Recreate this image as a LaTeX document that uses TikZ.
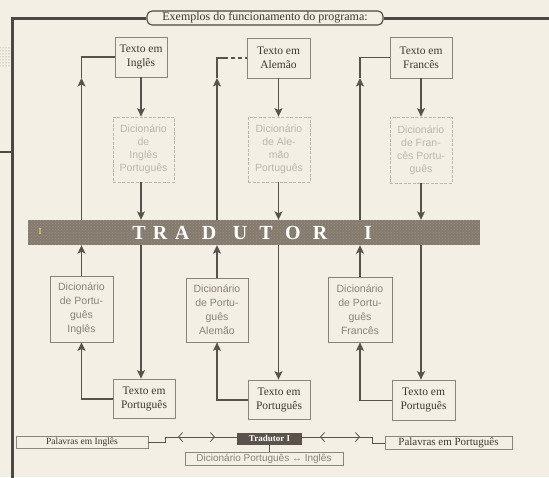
\documentclass[tikz,border=0pt]{standalone}
\usepackage{fontspec}
\setmainfont{Liberation Serif}
\newfontfamily\dsans{Liberation Sans}
\usetikzlibrary{arrows.meta,patterns}
\definecolor{bgc}{HTML}{F3EFE4}
\definecolor{lnc}{HTML}{57524C}
\definecolor{framec}{HTML}{4D4843}
\definecolor{boxc}{HTML}{8B857D}
\definecolor{txtc}{HTML}{3D3833}
\definecolor{dlight}{HTML}{BDB6AC}
\definecolor{dmid}{HTML}{8A8278}
\definecolor{barc}{HTML}{857B6F}
\definecolor{trc}{HTML}{5A524B}
\begin{document}
\begin{tikzpicture}[x=1pt,y=-1pt,
  tbox/.style={draw=boxc, line width=0.8pt, fill=bgc, text=txtc, align=center, inner sep=0pt,
    font=\fontsize{11.5}{14}\selectfont},
  dtop/.style={draw=dlight, line width=0.8pt, dash pattern=on 3pt off 1.5pt, fill=bgc, text=dlight, align=center, inner sep=0pt,
    font=\dsans\fontsize{10.5}{13}\selectfont},
  dlow/.style={draw=dmid, line width=0.8pt, fill=bgc, text=dmid, align=center, inner sep=0pt,
    font=\dsans\fontsize{10.5}{14}\selectfont},
  ln/.style={draw=lnc, line width=1.1pt},
  arr/.style={draw=lnc, line width=1.1pt, -{Stealth[length=8.5pt,width=8pt,inset=2pt]}},
  dbl/.style={draw=lnc, line width=0.8pt, {Straight Barb[length=4pt,width=9pt]}-{Straight Barb[length=4pt,width=9pt]}},
  frame/.style={draw=framec, line width=3pt},
  barl/.style={text=white, inner sep=0pt, font=\fontsize{20}{20}\selectfont\bfseries}
]
\fill[bgc] (0,0) rectangle (549,477);
\useasboundingbox (0,0) rectangle (549,477);

% frame and title
\node[draw=framec, line width=1.1pt, rounded corners=5pt, fill=bgc, minimum width=236pt, minimum height=14pt, inner sep=0pt,
  text=txtc, font=\fontsize{12}{12}\selectfont] (tt) at (265,18) {Exemplos do funcionamento do programa:};
\draw[frame] (tt.west) -- (12,18) -- (12,478);
\draw[frame] (tt.east) -- (550,18);
\fill[pattern=dots, pattern color=gray] (0,47) rectangle (10,66);
\draw[draw=framec, line width=2pt] (0,152) -- (12,152);

% top row
\node[tbox, minimum width=52pt, minimum height=40pt] (ti) at (141,57) {Texto em\\Inglês};
\node[tbox, minimum width=63pt, minimum height=40pt] (ta) at (278.5,58) {Texto em\\Alemão};
\node[tbox, minimum width=62pt, minimum height=41pt] (tf) at (421,57.5) {Texto em\\Francês};

% dictionaries top
\node[dtop, minimum width=61pt, minimum height=65pt] (di1) at (143.5,149.5) {Dicionário\\de\\Inglês\\Português};
\node[dtop, minimum width=62pt, minimum height=65pt] (di2) at (279,149.5) {Dicionário\\de Ale-\\mão\\Português};
\node[dtop, minimum width=62pt, minimum height=66pt] (di3) at (421,150) {Dicionário\\de Fran-\\cês Portu-\\guês};

% bar
\node[fill=barc, minimum width=452pt, minimum height=25pt, inner sep=0pt] (bar) at (254,232.5) {};
\fill[pattern=crosshatch dots, pattern color=barc!60!white, opacity=0.35] (bar.south west) rectangle (bar.north east);
\node[text=yellow!60!white, inner sep=0pt, font=\fontsize{9}{9}\selectfont] (bsmall) at (40,232) {I};
\foreach \x/\c [count=\i] in {139/T,160/R,182/A,209/D,240/U,266/T,293/O,320/R,368/I}
  \node[barl] (bl\i) at (\x,233) {\c};

% dictionaries lower
\node[dlow, minimum width=63pt, minimum height=66pt] (dl1) at (81.5,309) {Dicionário\\de Portu-\\guês\\Inglês};
\node[dlow, minimum width=62pt, minimum height=64pt] (dl2) at (217,310) {Dicionário\\de Portu-\\guês\\Alemão};
\node[dlow, minimum width=64pt, minimum height=65pt] (dl3) at (360,309.5) {Dicionário\\de Portu-\\guês\\Francês};

% bottom row
\node[tbox, minimum width=62pt, minimum height=39pt] (pb1) at (144,398.5) {Texto em\\Português};
\node[tbox, minimum width=62pt, minimum height=39pt] (pb2) at (279,399.5) {Texto em\\Português};
\node[tbox, minimum width=63pt, minimum height=40pt] (pb3) at (423.5,400) {Texto em\\Português};

% down arrows
\foreach \t/\d/\p in {ti/di1/pb1, ta/di2/pb2, tf/di3/pb3}{
  \draw[arr] (\t.south) -- (\t.south |- \d.north);
  \draw[arr] (\t.south |- \d.south) -- (\t.south |- bar.north);
  \draw[arr] (\t.south |- bar.south) -- (\t.south |- \p.north);
}

% up paths
\coordinate (m1) at (81.5,78);
\coordinate (m2) at (217,78);
\coordinate (m3) at (360,78);
\coordinate (d2) at (224,58);
\foreach \p/\d/\m in {pb1/dl1/m1, pb2/dl2/m2, pb3/dl3/m3}{
  \draw[arr] ([yshift=-0.5pt]\p.west) -| (\d.south);
  \draw[arr] (\d.north) -- (\d.north |- bar.south);
  \draw[arr] (\d.north |- bar.north) -- (\m);
}
\draw[ln] (m1) |- (ti.west);
\draw[ln] (m3) |- (tf.west);
\draw[ln] (m2) |- (d2);
\draw[ln, dash pattern=on 4pt off 3pt] (d2) -- (ta.west);

% bottom legend
\node[draw=boxc, line width=0.8pt, fill=bgc, minimum width=132pt, minimum height=12pt, inner sep=0pt, text=txtc,
  font=\fontsize{9.5}{9.5}\selectfont] (pi) at (82,442) {Palavras em Inglês};
\node[fill=trc, minimum width=65pt, minimum height=12pt, inner sep=0pt, text=white,
  font=\fontsize{9}{9}\selectfont\bfseries] (tr) at (269.5,438.5) {Tradutor I};
\node[draw=boxc, line width=0.8pt, fill=bgc, minimum width=127pt, minimum height=13pt, inner sep=0pt, text=txtc,
  font=\fontsize{11}{11}\selectfont] (pp) at (448.5,443) {Palavras em Português};
\node[draw=boxc, line width=0.8pt, fill=bgc, minimum width=158pt, minimum height=13pt, inner sep=0pt, text=dmid,
  font=\dsans\fontsize{10}{10}\selectfont] (dpi) at (264,458.5) {Dicionário Português ↔ Inglês};

\coordinate (a1) at (165,437);
\coordinate (a2) at (178,437);
\coordinate (a3) at (215,437);
\coordinate (b1) at (320,437);
\coordinate (b2) at (360,437);
\coordinate (b3) at (372,437);
\draw[draw=lnc, line width=0.8pt] (pi.east) -| (a1) -- (tr.west |- a1);
\draw[draw=lnc, line width=0.8pt] (tr.east |- b1) -- (b3) |- (pp.west);
\draw[dbl] (a2) -- (a3);
\draw[dbl] (b1) -- (b2);
\draw[draw=lnc, line width=0.8pt] (tr.south) -- (tr.south |- dpi.north);
\end{tikzpicture}
\end{document}
